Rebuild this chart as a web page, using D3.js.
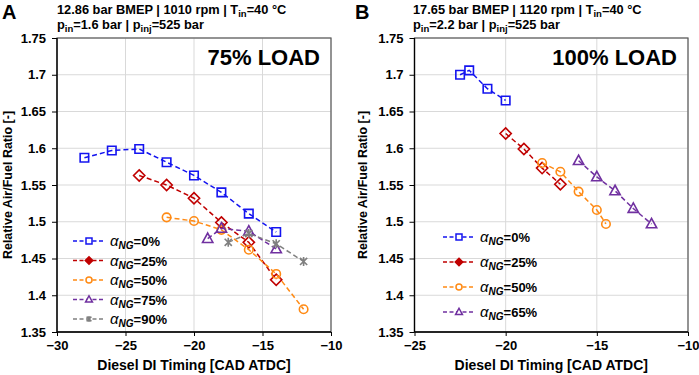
<!DOCTYPE html>
<html>
<head>
<meta charset="utf-8">
<script src="https://cdn.jsdelivr.net/npm/d3@7"></script>
<style>
  body { margin: 0; background: #fff; }
  text { font-family: "Liberation Sans", Arial, sans-serif; font-weight: bold; }
</style>
</head>
<body>
<div id="chart"></div>
<script>
// ---- data ----
const yTicks = [1.35, 1.4, 1.45, 1.5, 1.55, 1.6, 1.65, 1.7, 1.75];
const xTicksA = [-30, -25, -20, -15, -10];
const xTicksB = [-25, -20, -15, -10];

// panel A, 75% load
const timingA0 = [-28, -26, -24, -22, -20, -18, -16, -14];
const lambdaA0 = [1.587, 1.597, 1.599, 1.581, 1.563, 1.540, 1.511, 1.486];
const timingA25 = [-24, -22, -20, -18, -16, -14];
const lambdaA25 = [1.563, 1.550, 1.532, 1.499, 1.472, 1.421];
const timingA50 = [-22, -20, -18, -16, -14, -12];
const lambdaA50 = [1.506, 1.501, 1.489, 1.462, 1.429, 1.381];
const timingA75 = [-19, -18, -16, -14];
const lambdaA75 = [1.477, 1.491, 1.487, 1.463];
const timingA90 = [-17.5, -16, -14, -12];
const lambdaA90 = [1.472, 1.484, 1.470, 1.446];

// panel B, 100% load
const timingB0 = [-22.5, -22, -21, -20];
const lambdaB0 = [1.700, 1.706, 1.681, 1.665];
const timingB25 = [-20, -19, -18, -17];
const lambdaB25 = [1.620, 1.599, 1.573, 1.551];
const timingB50 = [-18, -17, -16, -15, -14.5];
const lambdaB50 = [1.580, 1.568, 1.541, 1.516, 1.497];
const timingB65 = [-16, -15, -14, -13, -12];
const lambdaB65 = [1.583, 1.561, 1.542, 1.518, 1.497];

const seriesA = [
  {pct: "0%",  x: timingA0,  y: lambdaA0,  color: "#1414f0", shape: "square"},
  {pct: "25%", x: timingA25, y: lambdaA25, color: "#c00000", shape: "diamond"},
  {pct: "50%", x: timingA50, y: lambdaA50, color: "#ff8a14", shape: "circle"},
  {pct: "75%", x: timingA75, y: lambdaA75, color: "#7030a0", shape: "triangle"},
  {pct: "90%", x: timingA90, y: lambdaA90, color: "#808080", shape: "star"}
];
const seriesB = [
  {pct: "0%",  x: timingB0,  y: lambdaB0,  color: "#1414f0", shape: "square"},
  {pct: "25%", x: timingB25, y: lambdaB25, color: "#c00000", shape: "diamond"},
  {pct: "50%", x: timingB50, y: lambdaB50, color: "#ff8a14", shape: "circle"},
  {pct: "65%", x: timingB65, y: lambdaB65, color: "#7030a0", shape: "triangle"}
];

const svg = d3.select("#chart").append("svg")
  .attr("width", 699).attr("height", 375);

// marker path centred at 0,0
const markerPath = (shape, s) => {
  const h = s / 2;
  if (shape === "square") return `M${-h},${-h}H${h}V${h}H${-h}Z`;
  if (shape === "diamond") return `M0,${-h * 1.25}L${h * 1.25},0L0,${h * 1.25}L${-h * 1.25},0Z`;
  if (shape === "circle") return `M${h},0A${h},${h} 0 1,1 ${-h},0A${h},${h} 0 1,1 ${h},0Z`;
  if (shape === "triangle") return `M0,${-h * 1.25}L${h * 1.15},${h * 0.85}L${-h * 1.15},${h * 0.85}Z`;
  // star (x + vertical bar)
  const k = h * 0.8;
  return `M${-k},${-k}L${k},${k}M${-k},${k}L${k},${-k}M0,${-h}V${h}`;
};

const drawPanel = (cfg) => {
  const {left, right, top, bottom, xDomain, xTicks, series} = cfg;
  const x = d3.scaleLinear().domain(xDomain).range([left, right]);
  const y = d3.scaleLinear().domain([1.35, 1.75]).range([bottom, top]);
  const g = svg.append("g");

  // grid
  g.selectAll(".gx").data(xTicks).enter().append("line")
    .attr("x1", d => x(d)).attr("x2", d => x(d))
    .attr("y1", top).attr("y2", bottom)
    .attr("stroke", "#d9d9d9").attr("stroke-width", 1);
  g.selectAll(".gy").data(yTicks).enter().append("line")
    .attr("x1", left).attr("x2", right)
    .attr("y1", d => y(d)).attr("y2", d => y(d))
    .attr("stroke", "#d9d9d9").attr("stroke-width", 1);

  // frame
  g.append("rect").attr("x", left).attr("y", top)
    .attr("width", right - left).attr("height", bottom - top)
    .attr("fill", "none").attr("stroke", "#595959").attr("stroke-width", 1.2);

  // axes
  const yAxis = g.append("g").attr("transform", `translate(${left},0)`)
    .call(d3.axisLeft(y).tickValues(yTicks).tickSize(5).tickPadding(6).tickFormat(d => +d.toFixed(2)));
  const xAxis = g.append("g").attr("transform", `translate(0,${bottom})`)
    .call(d3.axisBottom(x).tickValues(xTicks).tickSize(4).tickPadding(5).tickFormat(d3.format("d")));
  [yAxis, xAxis].forEach(a => {
    a.select(".domain").attr("stroke", "#000").attr("stroke-width", 1.3);
    a.selectAll(".tick line").attr("stroke", "#000");
    a.selectAll("text").attr("font-size", 13).attr("font-weight", "bold")
      .attr("font-family", "Liberation Sans, Arial, sans-serif").attr("fill", "#000");
  });
  yAxis.select(".domain").attr("d", `M0,${top}V${bottom}`);
  xAxis.select(".domain").attr("d", `M${left},0H${right}`);

  // series
  const line = d3.line().x(d => x(d[0])).y(d => y(d[1]));
  series.forEach(s => {
    const pts = s.x.map((v, i) => [v, s.y[i]]);
    g.append("path").datum(pts).attr("d", line)
      .attr("fill", "none").attr("stroke", s.color)
      .attr("stroke-width", 1.5).attr("stroke-dasharray", "5,3");
    g.selectAll(null).data(pts).enter().append("path")
      .attr("transform", d => `translate(${x(d[0])},${y(d[1])})`)
      .attr("d", markerPath(s.shape, s.shape === "square" || s.shape === "circle" ? 8.5 : 9))
      .attr("fill", "none").attr("stroke", s.color).attr("stroke-width", 1.6);
  });

  // legend
  const lg = g.append("g");
  series.forEach((s, i) => {
    const ly = cfg.legY + i * cfg.legGap;
    lg.append("line").attr("x1", cfg.legX).attr("x2", cfg.legX + 32)
      .attr("y1", ly).attr("y2", ly)
      .attr("stroke", s.color).attr("stroke-width", 1.5).attr("stroke-dasharray", "4,2.5");
    lg.append("path").attr("transform", `translate(${cfg.legX + 16},${ly})`)
      .attr("d", markerPath(s.shape, 6))
      .attr("fill", s.shape === "diamond" ? s.color : "#fff")
      .attr("stroke", s.color).attr("stroke-width", 1.5);
    const t = lg.append("text").attr("x", cfg.legX + 37).attr("y", ly + 5)
      .attr("font-size", 13).attr("fill", "#000");
    t.append("tspan").attr("font-style", "italic").attr("font-weight", "normal").attr("font-size", 15).text("α");
    t.append("tspan").attr("font-style", "italic").attr("font-size", 10).attr("dy", 3).text("NG");
    t.append("tspan").attr("dy", -3).text("=" + s.pct);
  });

  // load label
  g.append("text").attr("x", right - 11).attr("y", top + 27)
    .attr("text-anchor", "end").attr("font-size", 22).text(cfg.load);

  // axis titles
  g.append("text").attr("x", (left + right) / 2).attr("y", bottom + 38)
    .attr("text-anchor", "middle").attr("font-size", 14).text("Diesel DI Timing [CAD ATDC]");
  g.append("text").attr("transform", `translate(${cfg.yTitleX},${(top + bottom) / 2}) rotate(-90)`)
    .attr("text-anchor", "middle").attr("font-size", 12.5).text("Relative Air/Fuel Ratio [-]");

  // panel letter + header
  g.append("text").attr("x", cfg.letterX).attr("y", 19).attr("font-size", 20).text(cfg.letter);
  const h1 = g.append("text").attr("x", cfg.headX).attr("y", 14).attr("font-size", 12.8);
  h1.append("tspan").text(cfg.head1a);
  h1.append("tspan").attr("font-size", 9.5).attr("dy", 3).text("in");
  h1.append("tspan").attr("dy", -3).text("=40 °C");
  const h2 = g.append("text").attr("x", cfg.headX).attr("y", 29).attr("font-size", 12.8);
  h2.append("tspan").text("p");
  h2.append("tspan").attr("font-size", 9.5).attr("dy", 3).text("in");
  h2.append("tspan").attr("dy", -3).text(cfg.head2a);
  h2.append("tspan").attr("font-size", 9.5).attr("dy", 3).text("inj");
  h2.append("tspan").attr("dy", -3).text("=525 bar");
};

drawPanel({
  left: 57, right: 331, top: 38, bottom: 332,
  xDomain: [-30, -10], xTicks: xTicksA, series: seriesA,
  legX: 73, legY: 241, legGap: 19.5, load: "75% LOAD",
  yTitleX: 12, letter: "A", letterX: 2, headX: 57,
  head1a: "12.86 bar BMEP | 1010 rpm | T",
  head2a: "=1.6 bar | p"
});
drawPanel({
  left: 414.5, right: 688, top: 38, bottom: 332,
  xDomain: [-25, -10], xTicks: xTicksB, series: seriesB,
  legX: 443, legY: 237, legGap: 25, load: "100% LOAD",
  yTitleX: 367, letter: "B", letterX: 355, headX: 413,
  head1a: "17.65 bar BMEP | 1120 rpm | T",
  head2a: "=2.2 bar | p"
});
</script>
</body>
</html>
